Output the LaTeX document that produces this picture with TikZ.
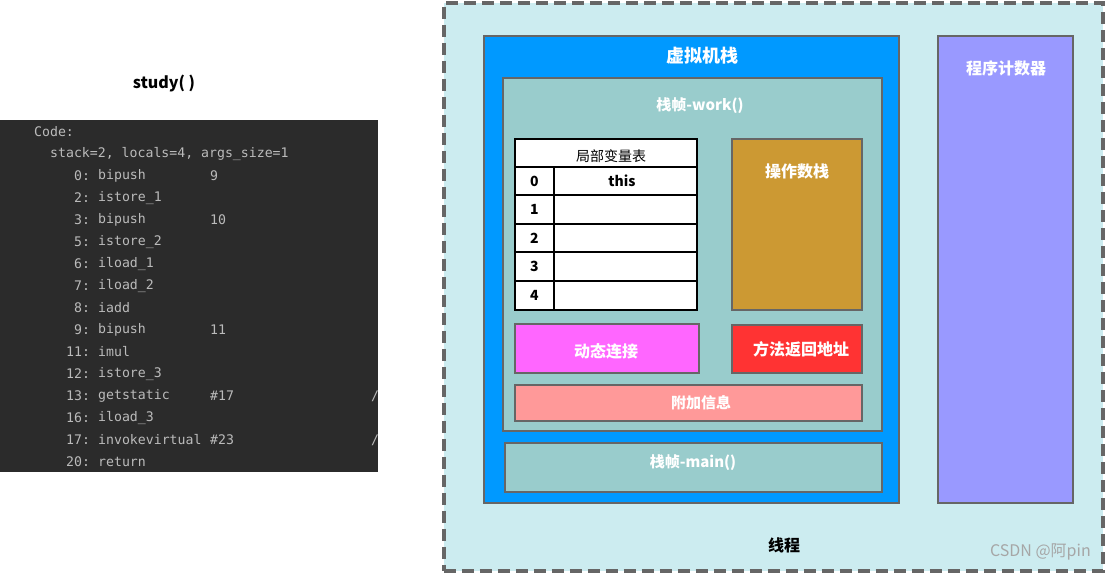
\documentclass[tikz,border=0pt]{standalone}
\usepackage{fontspec}
\setmainfont{Noto Sans CJK SC}
\newfontfamily\codefont{DejaVu Sans Mono}
\definecolor{threadfill}{HTML}{CCECF0}
\definecolor{jvmblue}{HTML}{0099FF}
\definecolor{framefill}{HTML}{99CCCC}
\definecolor{opfill}{HTML}{CC9933}
\definecolor{dynfill}{HTML}{FF66FF}
\definecolor{retfill}{HTML}{FF3333}
\definecolor{extrafill}{HTML}{FF9999}
\definecolor{pcfill}{HTML}{9999FF}
\definecolor{edgegray}{HTML}{666666}
\definecolor{codebg}{HTML}{2B2B2B}
\definecolor{codefg}{HTML}{BBBBBB}
\begin{document}
\begin{tikzpicture}[x=1pt,y=-1pt,
  box/.style={draw=edgegray,line width=1.8pt,inner sep=0pt,outer sep=0pt},
  cell/.style={draw=black,line width=2pt,fill=white,inner sep=0pt,outer sep=0pt},
  wtitle/.style={text=white,font=\bfseries\fontsize{#1}{#1}\selectfont,inner sep=0pt},
  wtitle/.default=16pt,
  btxt/.style={text=black,font=\bfseries\fontsize{14}{14}\selectfont,inner sep=0pt},
  code/.style={text=codefg,font=\codefont\fontsize{13.2}{13.2}\selectfont,inner sep=0pt,anchor=west}]
\useasboundingbox (0,0) rectangle (1105,573);
% thread box
\node[draw=edgegray,line width=4pt,dash pattern=on 12pt off 6pt,fill=threadfill,
  minimum width=659pt,minimum height=568pt,inner sep=0pt] (thread) at (773,286.5) {};
\node[text=black,font=\bfseries\fontsize{16}{16}\selectfont,inner sep=0pt] (threadlbl) at (784,545) {线程};
\node[text=black!35,font=\fontsize{16}{16}\selectfont,inner sep=0pt,anchor=east] (wm) at (1091,552) {CSDN @阿pin};
% JVM stack
\node[box,fill=jvmblue,minimum width=415pt,minimum height=467pt] (jvm) at (691.5,269.5) {};
\node[wtitle=18pt] (jvmlbl) at (702,56) {虚拟机栈};
% frame work
\node[box,fill=framefill,minimum width=379pt,minimum height=353pt] (work) at (692.5,254.5) {};
\node[wtitle=15pt] (worklbl) at (700,106) {栈帧-work()};
% local variable table
\node[cell,minimum width=182pt,minimum height=28pt] (hdr) at (606,153) {};
\node[text=black,font=\fontsize{14}{14}\selectfont,inner sep=0pt] (hdrlbl) at (611,156) {局部变量表};
\foreach \i/\t/\b in {0/167/195,1/195/224,2/224/252,3/252/281,4/281/310}{
  \node[cell,minimum width=39pt,minimum height={(\b-\t)*1pt}] (idx\i) at (534.5,{(\t+\b)/2}) {};
  \node[cell,minimum width=143pt,minimum height={(\b-\t)*1pt}] (val\i) at (625.5,{(\t+\b)/2}) {};
  \node[btxt] (idxlbl\i) at (534.5,{(\t+\b)/2}) {\i};
}
\node[btxt] (thislbl) at (622,181) {this};
% operand stack
\node[box,fill=opfill,minimum width=130pt,minimum height=171pt] (op) at (797,224.5) {};
\node[wtitle=16pt] (oplbl) at (797,171) {操作数栈};
% dynamic linking
\node[box,fill=dynfill,minimum width=184pt,minimum height=49pt] (dyn) at (607,348.5) {};
\node[wtitle=16pt] (dynlbl) at (606,351) {动态连接};
% return address
\node[box,fill=retfill,minimum width=130pt,minimum height=48pt] (ret) at (797,349) {};
\node[wtitle=16pt] (retlbl) at (801,349) {方法返回地址};
% extra info
\node[box,fill=extrafill,minimum width=347pt,minimum height=36pt] (extra) at (688.5,403) {};
\node[wtitle=15pt] (extralbl) at (701,403) {附加信息};
% frame main
\node[box,fill=framefill,minimum width=377pt,minimum height=49pt] (main) at (693.5,467.5) {};
\node[wtitle=15pt] (mainlbl) at (693,463) {栈帧-main()};
% program counter
\node[box,fill=pcfill,minimum width=135pt,minimum height=467pt] (pc) at (1005.5,269.5) {};
\node[wtitle=16pt] (pclbl) at (1006,68) {程序计数器};
% left: study code
\node[text=black,font=\bfseries\fontsize{16}{16}\selectfont,inner sep=0pt] (study) at (164,84) {study( )};
\node[fill=codebg,minimum width=378pt,minimum height=352pt,inner sep=0pt] (codebox) at (189,296) {};
\node[code] (c0) at (34,132) {Code:};
\node[code] (c1) at (50,154) {stack=2, locals=4, args\_size=1};
\foreach \n/\x/\y/\op/\arg [count=\k] in {
  0:/74/176/bipush/9, 2:/74/198/istore\_1/, 3:/74/220/bipush/10,
  5:/74/242/istore\_2/, 6:/74/264/iload\_1/, 7:/74/286/iload\_2/,
  8:/74/308/iadd/, 9:/74/330/bipush/11, 11:/66/352/imul/,
  12:/66/374/istore\_3/, 13:/66/396/getstatic/\#17, 16:/66/418/iload\_3/,
  17:/66/440/invokevirtual/\#23, 20:/66/462/return/}{
  \node[code] (n\k) at (\x,\y) {\n};
  \node[code] (o\k) at (98,\y) {\op};
  \node[code] (a\k) at (210,\y) {\arg};
}
\node[code] (s1) at (371,396) {/};
\node[code] (s2) at (371,440) {/};
\end{tikzpicture}
\end{document}
